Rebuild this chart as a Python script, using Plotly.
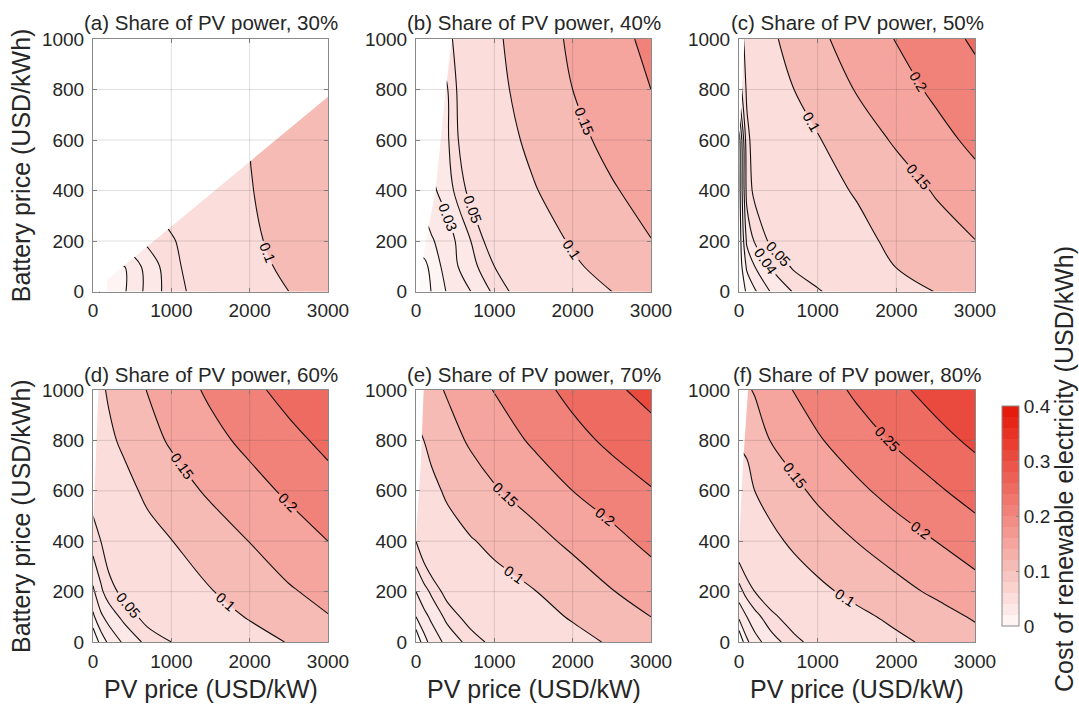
import plotly.graph_objects as go

# ---------------- data ----------------
PV_PRICE = [0, 100, 200, 400, 700, 1000, 1500, 2000, 2500, 3000]      # USD/kW
BATTERY_PRICE = [0, 100, 200, 400, 600, 800, 1000]                    # USD/kWh
N = None  # no feasible system (blank area)

# cost of renewable electricity (USD/kWh); one row per battery price
COST_30 = [
    [N, N, 0.010, 0.019, 0.033, 0.045, 0.058, 0.080, 0.100, 0.120],
    [N, N, N, 0.020, 0.034, 0.046, 0.062, 0.088, 0.108, 0.128],
    [N, N, N, N, N, 0.048, 0.066, 0.093, 0.113, 0.131],
    [N, N, N, N, N, N, N, 0.098, 0.118, 0.135],
    [N, N, N, N, N, N, N, N, 0.121, 0.138],
    [N, N, N, N, N, N, N, N, N, N],
    [N, N, N, N, N, N, N, N, N, N],
]
COST_40 = [
    [0.000, 0.005, 0.0105, 0.021, 0.030, 0.042, 0.063, 0.082, 0.100, 0.125],
    [N, 0.007, 0.013, 0.025, 0.036, 0.050, 0.072, 0.094, 0.115, 0.137],
    [N, N, 0.019, 0.025, 0.040, 0.058, 0.081, 0.104, 0.127, 0.149],
    [N, N, N, 0.035, 0.054, 0.070, 0.097, 0.122, 0.146, 0.166],
    [N, N, N, 0.0385, 0.063, 0.080, 0.110, 0.138, 0.162, 0.183],
    [N, N, N, 0.0395, 0.066, 0.088, 0.119, 0.150, 0.177, 0.200],
    [N, N, N, 0.045, 0.068, 0.093, 0.124, 0.158, 0.186, 0.210],
]
COST_50 = [
    [0.000, 0.012, 0.0186, 0.0304, 0.041, 0.048, 0.065, 0.083, 0.101, 0.118],
    [0.003, 0.022, 0.030, 0.041, 0.052, 0.062, 0.083, 0.101, 0.118, 0.134],
    [0.003, 0.032, 0.041, 0.052, 0.064, 0.075, 0.090, 0.108, 0.129, 0.149],
    [0.004, 0.044, 0.053, 0.061, 0.073, 0.088, 0.103, 0.127, 0.154, 0.182],
    [0.005, 0.047, 0.055, 0.065, 0.081, 0.097, 0.126, 0.156, 0.184, 0.211],
    [N, 0.052, 0.060, 0.079, 0.100, 0.121, 0.153, 0.181, 0.209, 0.234],
    [N, 0.054, 0.066, 0.091, 0.118, 0.140, 0.172, 0.202, 0.229, 0.257],
]
COST_60 = [
    [0.000, 0.014, 0.022, 0.032, 0.043, 0.050, 0.066, 0.084, 0.102, 0.128],
    [0.018, 0.028, 0.034, 0.043, 0.055, 0.066, 0.083, 0.103, 0.125, 0.148],
    [0.028, 0.038, 0.045, 0.054, 0.066, 0.078, 0.098, 0.119, 0.145, 0.164],
    [0.045, 0.050, 0.058, 0.071, 0.087, 0.099, 0.123, 0.151, 0.176, 0.200],
    [0.055, 0.062, 0.072, 0.088, 0.108, 0.127, 0.158, 0.183, 0.208, 0.232],
    [N, 0.085, 0.093, 0.107, 0.134, 0.156, 0.186, 0.212, 0.237, 0.262],
    [N, 0.094, 0.104, 0.124, 0.152, 0.176, 0.208, 0.238, 0.266, 0.293],
]
COST_70 = [
    [0.000, 0.016, 0.024, 0.033, 0.044, 0.054, 0.070, 0.086, 0.105, 0.129],
    [0.020, 0.027, 0.032, 0.043, 0.056, 0.067, 0.084, 0.104, 0.126, 0.150],
    [0.030, 0.036, 0.042, 0.055, 0.070, 0.083, 0.098, 0.122, 0.148, 0.171],
    [0.050, 0.060, 0.069, 0.083, 0.097, 0.110, 0.135, 0.160, 0.185, 0.213],
    [0.068, 0.078, 0.090, 0.106, 0.128, 0.146, 0.170, 0.200, 0.225, 0.247],
    [N, 0.100, 0.111, 0.133, 0.156, 0.174, 0.207, 0.235, 0.260, 0.282],
    [N, 0.130, 0.138, 0.154, 0.178, 0.202, 0.233, 0.263, 0.291, 0.315],
]
COST_80 = [
    [0.000, 0.018, 0.026, 0.035, 0.046, 0.056, 0.073, 0.091, 0.110, 0.132],
    [0.022, 0.030, 0.036, 0.046, 0.058, 0.070, 0.090, 0.110, 0.132, 0.155],
    [0.036, 0.044, 0.050, 0.060, 0.075, 0.090, 0.112, 0.135, 0.158, 0.180],
    [0.060, 0.067, 0.075, 0.089, 0.108, 0.124, 0.151, 0.176, 0.200, 0.226],
    [0.080, 0.088, 0.100, 0.116, 0.139, 0.160, 0.190, 0.218, 0.243, 0.269],
    [N, 0.107, 0.122, 0.151, 0.173, 0.195, 0.227, 0.256, 0.283, 0.310],
    [N, 0.144, 0.154, 0.174, 0.202, 0.224, 0.259, 0.289, 0.319, 0.345],
]

# edge of the blank (infeasible) region, from bottom/left edge towards the top
BLANK_30_PV = [0, 178, 178, 3000]
BLANK_30_BAT = [0, 0, 46, 771]
BLANK_40_PV = [0, 30, 120, 250, 380, 460]
BLANK_40_BAT = [0, 0, 190, 400, 800, 1000]
BLANK_50_PV = [0, 40, 70]
BLANK_50_BAT = [600, 800, 1000]
BLANK_60_PV = [0, 40, 70]
BLANK_60_BAT = [440, 750, 1000]
BLANK_70_PV = [0, 60, 98]
BLANK_70_BAT = [420, 700, 1000]
BLANK_80_PV = [0, 50, 115]
BLANK_80_BAT = [380, 700, 1000]

SHARES = [30, 40, 50, 60, 70, 80]
LETTERS = ["a", "b", "c", "d", "e", "f"]
COSTS = [COST_30, COST_40, COST_50, COST_60, COST_70, COST_80]
BLANKS = [(BLANK_30_PV, BLANK_30_BAT), (BLANK_40_PV, BLANK_40_BAT),
          (BLANK_50_PV, BLANK_50_BAT), (BLANK_60_PV, BLANK_60_BAT),
          (BLANK_70_PV, BLANK_70_BAT), (BLANK_80_PV, BLANK_80_BAT)]
# highest small level that gets an inline label in each panel (None: no small labels)
FINE_LABEL_TOP = [None, 0.03, 0.04, 0.04, 0.04, 0.04]

X_TICKS = [0, 1000, 2000, 3000]
Y_TICKS = [0, 200, 400, 600, 800, 1000]
X_RANGE = [0, 3000]
Y_RANGE = [0, 1000]
CONTOUR_LEVELS = [0.01, 0.02, 0.03, 0.04, 0.05, 0.1, 0.15, 0.2, 0.25, 0.3, 0.35]
CBAR_TICKS = [0, 0.1, 0.2, 0.3, 0.4]
CBAR_MAX = 0.4
CBAR_STEPS = 20

# ---------------- style ----------------
W, H = 1079, 714
FONT = "Liberation Sans, Arial, sans-serif"
TXT = "#262626"
FRAME = "#8a8a8a"
RED = (229, 28, 12)
LABEL_SIZE = 25


def shade(t):
    return "rgb(%d,%d,%d)" % tuple(round(255 - t * (255 - c)) for c in RED)


def level_t(level):
    # colour bin (of the 20-step map over 0-0.4) used for a filled level
    return (int(level / (CBAR_MAX / CBAR_STEPS) + 1e-9) + 1) / CBAR_STEPS


# fill colour scale for 0.01-spaced bands reproducing the stepped fills
FILL_START, FILL_END, FILL_SIZE = 0.01, 0.35, 0.01
n_lev = int(round((FILL_END - FILL_START) / FILL_SIZE)) + 1
fill_scale = []
for k in range(n_lev + 1):
    lev = FILL_START + (k - 1) * FILL_SIZE
    if k == 0:
        t = 0.02
    else:
        m = max(v for v in CONTOUR_LEVELS if v <= lev + 1e-9)
        t = level_t(m)
    fill_scale.append([k / n_lev, shade(t)])

cbar_scale = []
for i in range(CBAR_STEPS):
    c = shade((i + 1) / CBAR_STEPS)
    cbar_scale.append([i / CBAR_STEPS, c])
    cbar_scale.append([(i + 1) / CBAR_STEPS, c])

COLS = [(93, 328), (416, 651), (739, 975)]
ROWS = [(39, 291.5), (390, 642)]

fig = go.Figure()
layout = dict(width=W, height=H, margin=dict(l=0, r=0, t=0, b=0, autoexpand=False),
              paper_bgcolor="white", plot_bgcolor="white",
              font=dict(family=FONT, color=TXT, size=19), showlegend=False)
shapes, annotations = [], []

for i in range(6):
    r, c = divmod(i, 3)
    ax = "" if i == 0 else str(i + 1)
    xa, ya = "x" + ax, "y" + ax
    x0, x1 = COLS[c]
    y0, y1 = ROWS[r]
    axis_common = dict(showline=True, linecolor=FRAME, linewidth=1, mirror="ticks",
                       ticks="inside", ticklen=4, tickcolor=FRAME, showgrid=False,
                       zeroline=False, tickfont=dict(size=19, color=TXT),
                       fixedrange=True, automargin=False)
    layout["xaxis" + ax] = dict(axis_common, domain=[x0 / W, x1 / W], range=X_RANGE,
                                tickvals=X_TICKS, anchor=ya, ticklabelstandoff=2)
    layout["yaxis" + ax] = dict(axis_common, domain=[1 - y1 / H, 1 - y0 / H],
                                range=Y_RANGE, tickvals=Y_TICKS, anchor=xa,
                                ticklabelstandoff=4)

    z = COSTS[i]
    fig.add_trace(go.Contour(
        x=PV_PRICE, y=BATTERY_PRICE, z=z, xaxis=xa, yaxis=ya,
        autocontour=False, connectgaps=True,
        contours=dict(start=FILL_START, end=FILL_END, size=FILL_SIZE,
                      coloring="fill", showlines=False),
        colorscale=fill_scale, showscale=False,
        line=dict(width=0, smoothing=1), hoverinfo="skip"))

    top = FINE_LABEL_TOP[i]
    specs = [(0.01, 0.01, 0.01, False)]
    if top is None:
        specs.append((0.02, 0.04, 0.01, False))
    else:
        specs.append((0.02, top, 0.01, True))
        if top < 0.04 - 1e-9:
            specs.append((top + 0.01, 0.04, 0.01, False))
    specs.append((0.05, 0.35, 0.05, True))
    for (s, e, d, lab) in specs:
        fig.add_trace(go.Contour(
            x=PV_PRICE, y=BATTERY_PRICE, z=z, xaxis=xa, yaxis=ya,
            autocontour=False, connectgaps=True,
            contours=dict(start=s, end=e, size=d, coloring="none",
                          showlabels=lab, labelformat=".2~f",
                          labelfont=dict(size=14.5, color="black", family=FONT)),
            line=dict(color="#111111", width=1.1, smoothing=1),
            showscale=False, hoverinfo="skip"))

    bx, by = BLANKS[i]
    px = list(bx) + [bx[-1], X_RANGE[0], X_RANGE[0]]
    py = list(by) + [Y_RANGE[1], Y_RANGE[1], by[0]]
    fig.add_trace(go.Scatter(x=px, y=py, xaxis=xa, yaxis=ya, mode="lines",
                             fill="toself", fillcolor="white",
                             line=dict(width=0, color="white"), hoverinfo="skip"))

    for xv in X_TICKS[1:-1]:
        shapes.append(dict(type="line", xref=xa, yref=ya + " domain", x0=xv, x1=xv,
                           y0=0, y1=1, layer="above",
                           line=dict(color="rgba(38,38,38,0.15)", width=1)))
    for yv in Y_TICKS[1:-1]:
        shapes.append(dict(type="line", xref=xa + " domain", yref=ya, x0=0, x1=1,
                           y0=yv, y1=yv, layer="above",
                           line=dict(color="rgba(38,38,38,0.15)", width=1)))

    annotations.append(dict(text="(%s) Share of PV power, %d%%" % (LETTERS[i], SHARES[i]),
                            xref="paper", yref="paper", x=(x0 + x1) / 2 / W,
                            y=1 - (y0 - 16) / H, xanchor="center", yanchor="middle",
                            showarrow=False, font=dict(size=20.5, color=TXT)))
    if c == 0:
        annotations.append(dict(text="Battery price (USD/kWh)", xref="paper", yref="paper",
                                x=21 / W, y=1 - (y0 + y1) / 2 / H, textangle=-90,
                                xanchor="center", yanchor="middle", showarrow=False,
                                font=dict(size=LABEL_SIZE, color=TXT)))
    if r == 1:
        annotations.append(dict(text="PV price (USD/kW)", xref="paper", yref="paper",
                                x=(x0 + x1) / 2 / W, y=1 - 689 / H, xanchor="center",
                                yanchor="middle", showarrow=False,
                                font=dict(size=LABEL_SIZE, color=TXT)))

# colour bar
fig.add_trace(go.Scatter(
    x=[None], y=[None], mode="markers", xaxis="x6", yaxis="y6", hoverinfo="skip",
    marker=dict(color=[0], cmin=0, cmax=CBAR_MAX, colorscale=cbar_scale, showscale=True,
                colorbar=dict(x=1002 / W, xanchor="left", y=1 - 516 / H, yanchor="middle",
                              len=220, lenmode="pixels", thickness=17,
                              thicknessmode="pixels", outlinewidth=1, outlinecolor=FRAME,
                              tickvals=CBAR_TICKS, ticktext=[("%g" % v) for v in CBAR_TICKS],
                              ticks="inside", ticklen=3, tickcolor=FRAME,
                              tickfont=dict(size=19, color=TXT), xpad=0, ypad=0))))
annotations.append(dict(text="Cost of renewable electricity (USD/kWh)", xref="paper",
                        yref="paper", x=1064 / W, y=1 - 469 / H, textangle=-90,
                        xanchor="center", yanchor="middle", showarrow=False,
                        font=dict(size=LABEL_SIZE, color=TXT)))

layout["shapes"] = shapes
layout["annotations"] = annotations
fig.update_layout(**layout)
fig.write_html("out.html", config={"displayModeBar": False},
               post_script="document.body.style.margin='0';document.body.style.overflow='hidden';")
